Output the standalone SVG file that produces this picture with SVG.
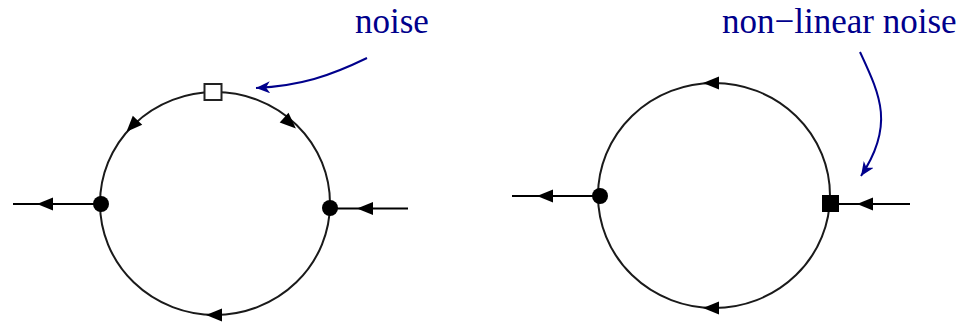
<svg xmlns="http://www.w3.org/2000/svg" xmlns:xlink="http://www.w3.org/1999/xlink" width="959" height="322" viewBox="0 0 959 322">
<style>
.loop{fill:none;stroke:#1a1a1a;stroke-width:2}
.leg{fill:none;stroke:#000;stroke-width:2}
.ah{fill:#000}
.note{fill:none;stroke:#00008c;stroke-width:2}
.lbl{font-family:"Liberation Serif","Times New Roman",serif;font-size:35px;fill:#00008c}
</style>
<defs>
<path id="ah" d="M-8,0 L8,-6.5 L8,6.5 Z"/>
<marker id="bh" markerUnits="userSpaceOnUse" markerWidth="20" markerHeight="16" refX="14" refY="6" orient="auto">
<path d="M0,0 L14,6 L0,12 L4,6 Z" fill="#00008c"/>
</marker>
</defs>
<rect width="959" height="322" fill="#fff"/>
<g id="connectors">
<ellipse class="loop" cx="215" cy="203.5" rx="115" ry="111.5"/>
<line class="leg" x1="13" y1="204" x2="100" y2="204"/>
<line class="leg" x1="330" y1="208.5" x2="408" y2="208.5"/>
<use href="#ah" class="ah" transform="translate(45,204)"/>
<use href="#ah" class="ah" transform="translate(365,208.5)"/>
<use href="#ah" class="ah" transform="translate(132,126) rotate(-46.5)"/>
<use href="#ah" class="ah" transform="translate(290,123) rotate(222.5)"/>
<use href="#ah" class="ah" transform="translate(214,315)"/>
<path class="note" d="M367,58 C330,76 300,86 256,88" marker-end="url(#bh)"/>

<ellipse class="loop" cx="714" cy="195.5" rx="116" ry="112.5"/>
<line class="leg" x1="512" y1="196" x2="598" y2="196"/>
<line class="leg" x1="830" y1="204" x2="910" y2="204"/>
<use href="#ah" class="ah" transform="translate(545,196)"/>
<use href="#ah" class="ah" transform="translate(865,204)"/>
<use href="#ah" class="ah" transform="translate(711,83)"/>
<use href="#ah" class="ah" transform="translate(711,308)"/>
<path class="note" d="M860,52 C880,95 895,125 861,176" marker-end="url(#bh)"/>
</g>
<g id="vertex-left-1"><circle cx="101" cy="204" r="8" fill="#000"/></g>
<g id="vertex-right-1"><circle cx="330" cy="208" r="8" fill="#000"/></g>
<g id="noise-vertex"><rect x="204.5" y="84" width="17" height="16" fill="#fff" stroke="#222" stroke-width="2"/></g>
<g id="label-noise"><text class="lbl" x="355" y="33">noise</text></g>
<g id="vertex-left-2"><circle cx="600" cy="196" r="8" fill="#000"/></g>
<g id="nonlinear-vertex"><rect x="822" y="195" width="17" height="17" fill="#000"/></g>
<g id="label-nonlinear"><text class="lbl" x="722" y="33">non−linear noise</text></g>
</svg>
